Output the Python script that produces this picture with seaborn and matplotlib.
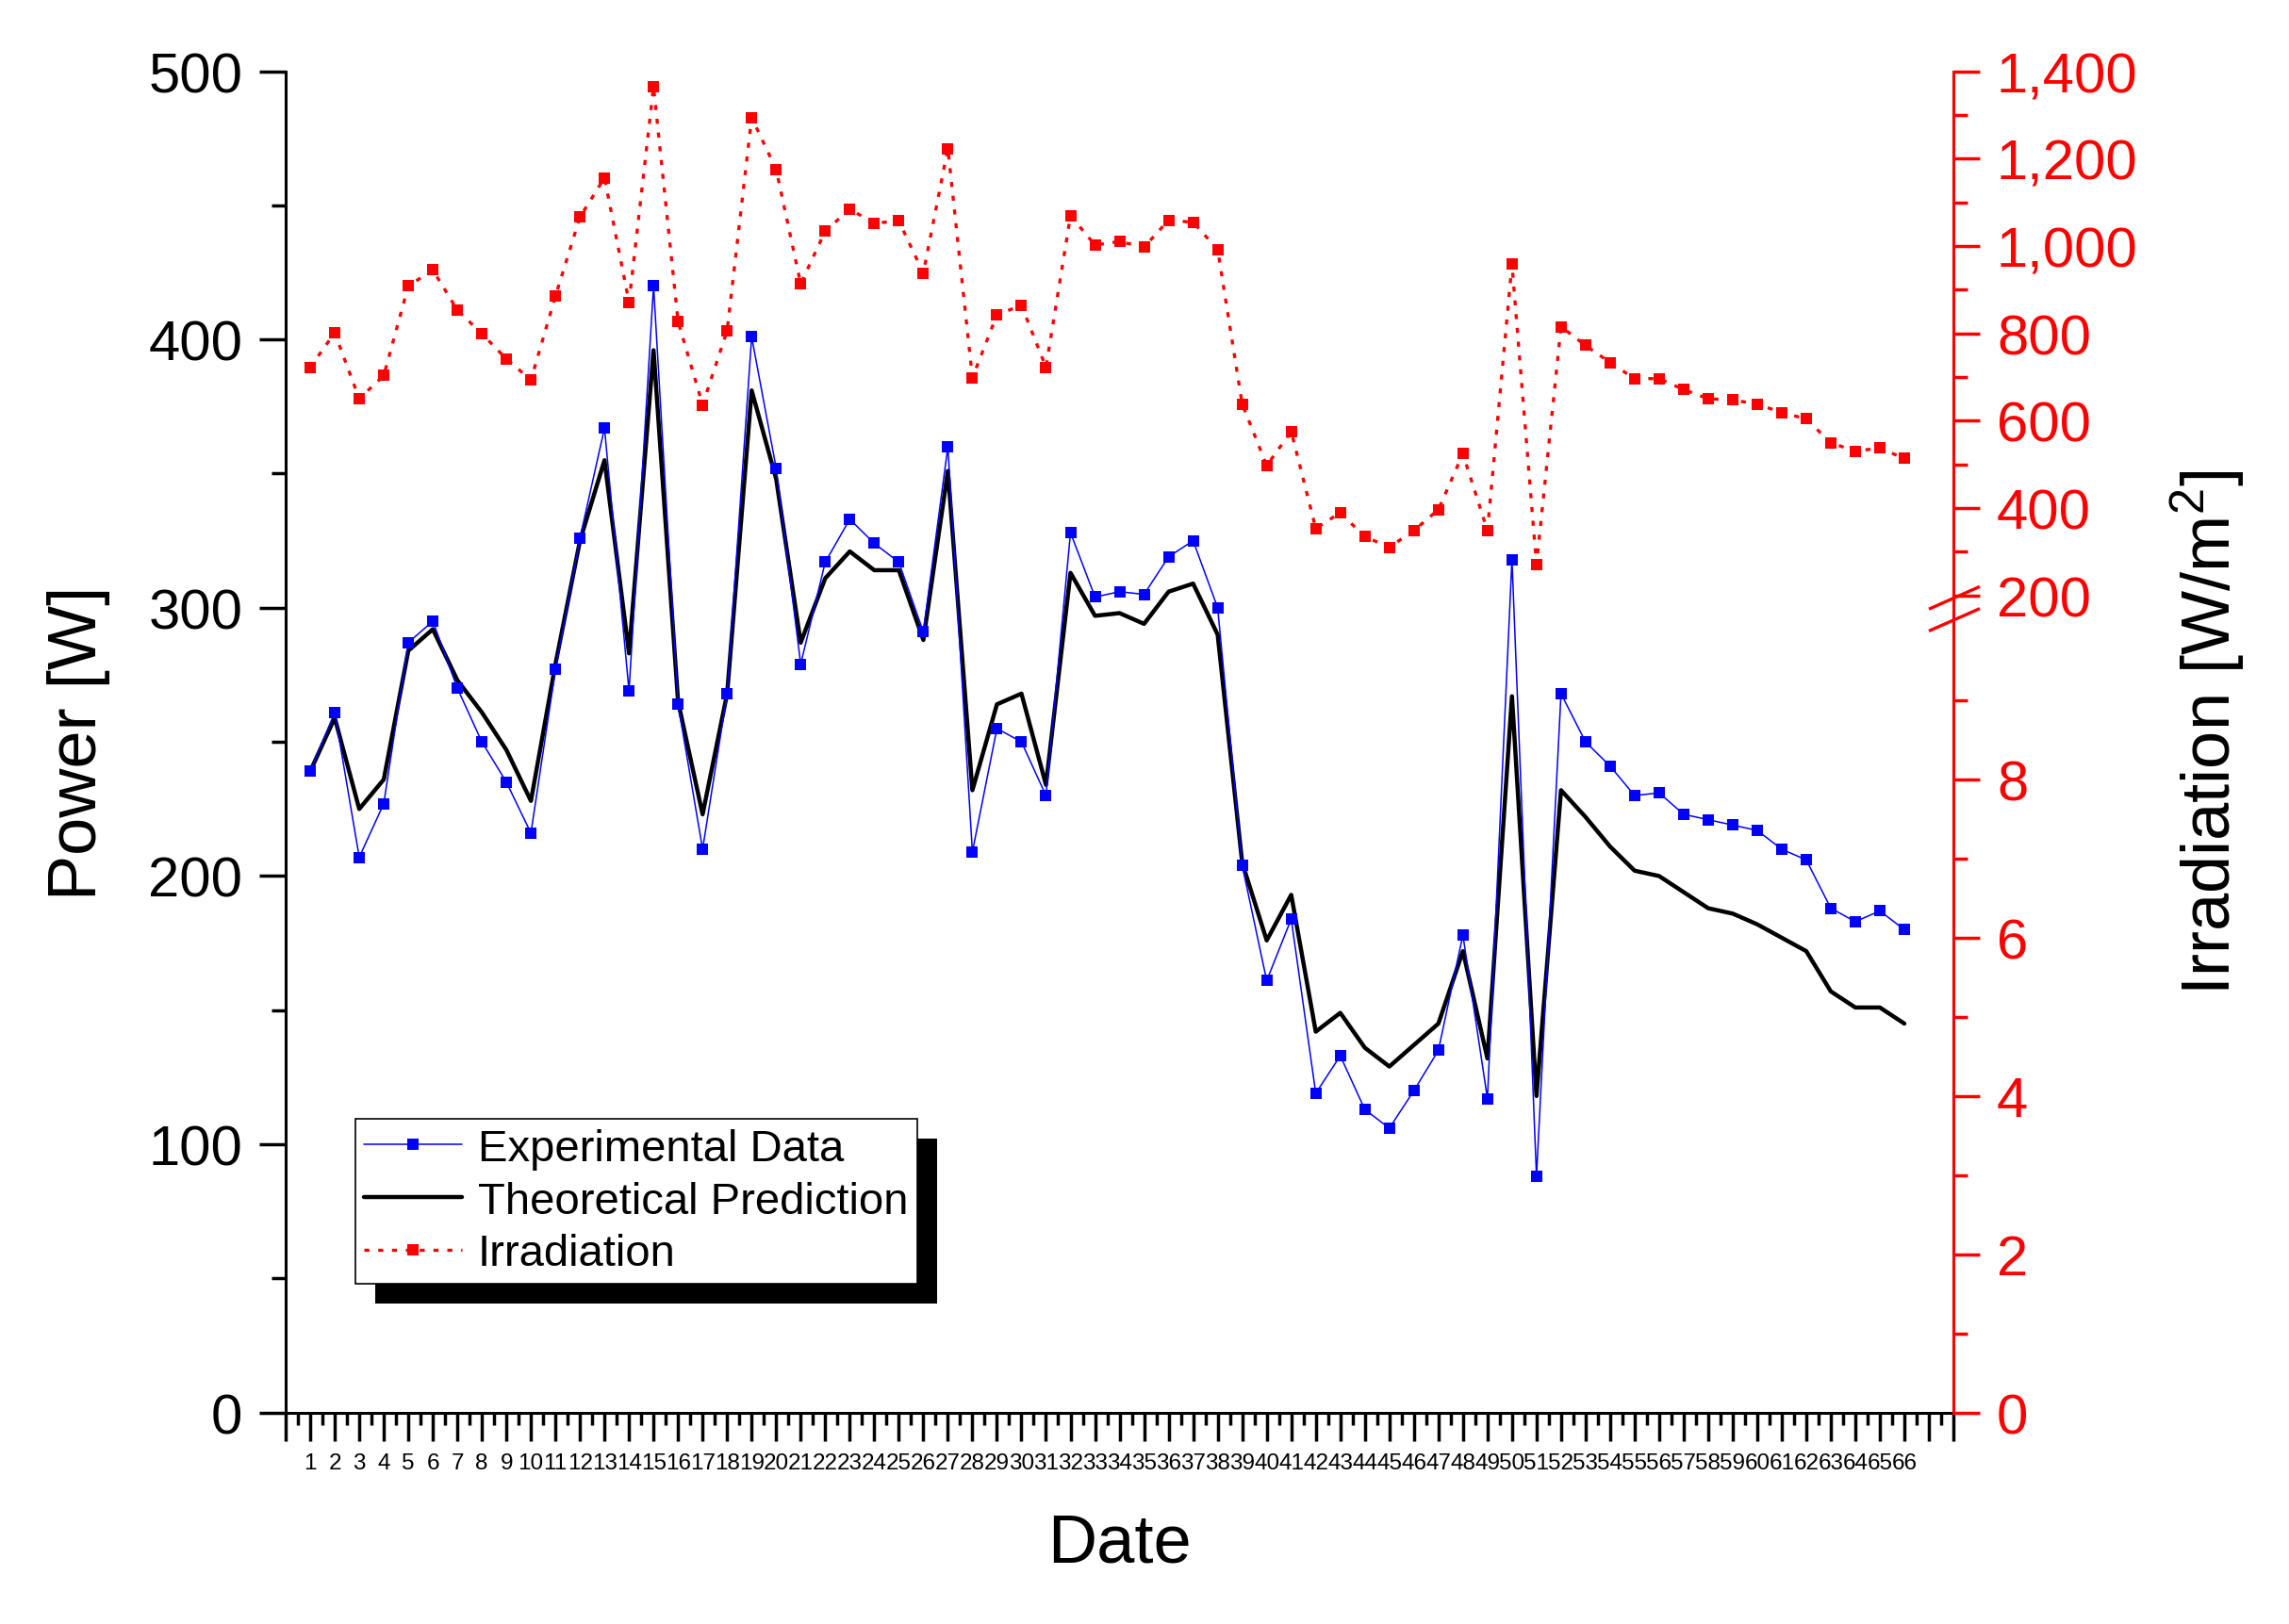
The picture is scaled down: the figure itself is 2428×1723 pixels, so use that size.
import numpy as np
import pandas as pd
import matplotlib
matplotlib.use("Agg")
import matplotlib.pyplot as plt
import seaborn as sns
from matplotlib.ticker import FixedLocator, FuncFormatter, MultipleLocator
from matplotlib.patches import Rectangle
from matplotlib.transforms import IdentityTransform

# ---------------- data ----------------
dates = [1, 2, 3, 4, 5, 6, 7, 8, 9, 10, 11, 12, 13, 14, 15, 16, 17, 18, 19, 20,
         21, 22, 23, 24, 25, 26, 27, 28, 29, 30, 31, 32, 33, 34, 35, 36, 37, 38, 39, 40,
         41, 42, 43, 44, 45, 46, 47, 48, 49, 50, 51, 52, 53, 54, 55, 56, 57, 58, 59, 60,
         61, 62, 63, 64, 65, 66]

experimental = [239, 261, 207, 227, 287, 295, 270, 250, 235, 216,
                277, 326, 367, 269, 420, 264, 210, 268, 401, 352,
                279, 317, 333, 324, 317, 291, 360, 209, 255, 250,
                230, 328, 304, 306, 305, 319, 325, 300, 204, 161,
                184, 119, 133, 113, 106, 120, 135, 178, 117, 318,
                88, 268, 250, 241, 230, 231, 223, 221, 219, 217,
                210, 206, 188, 183, 187, 180]

theoretical = [239, 259, 225, 236, 284, 292, 273, 261, 247, 228,
               279, 325, 355, 283, 396, 265, 223, 268, 381, 348,
               287, 311, 321, 314, 314, 288, 351, 232, 264, 268,
               234, 313, 297, 298, 294, 306, 309, 290, 205, 176,
               193, 142, 149, 136, 129, 137, 145, 172, 132, 267,
               118, 232, 222, 211, 202, 200, 194, 188, 186, 182,
               177, 172, 157, 151, 151, 145]

irradiation = [722, 801, 650, 703, 908, 945, 853, 799, 741, 693,
               885, 1066, 1156, 871, 1364, 827, 636, 806, 1294, 1175,
               913, 1034, 1084, 1052, 1057, 938, 1223, 698, 842, 864,
               722, 1069, 1002, 1010, 997, 1059, 1054, 992, 638, 497,
               575, 353, 389, 334, 310, 348, 396, 524, 348, 958,
               270, 815, 772, 733, 696, 696, 671, 650, 647, 638,
               618, 604, 549, 530, 537, 513]

legend_labels = ["Experimental Data", "Theoretical Prediction", "Irradiation"]
left_ticks = [0, 100, 200, 300, 400, 500]
right_major = [0, 2, 4, 6, 8, 200, 400, 600, 800, 1000, 1200, 1400]
right_minor = [1, 3, 5, 7, 9, 300, 500, 700, 900, 1100, 1300]

df = pd.DataFrame({"Date": dates, "Experimental": experimental,
                   "Theoretical": theoretical, "Irradiation": irradiation})

BLUE = "#0000FF"
RED = "#FF0000"

# ---------------- style ----------------
sns.set_style("ticks")
plt.rcParams["font.family"] = ["Liberation Sans", "DejaVu Sans"]
plt.rcParams["mathtext.fontset"] = "custom"
plt.rcParams["mathtext.rm"] = "Liberation Sans"
plt.rcParams["mathtext.it"] = "Liberation Sans:italic"
plt.rcParams["text.color"] = "black"
plt.rcParams["axes.labelcolor"] = "black"
plt.rcParams["xtick.color"] = "black"
plt.rcParams["ytick.color"] = "black"
plt.rcParams["axes.edgecolor"] = "black"

fig = plt.figure(figsize=(24.28, 17.24), dpi=100)
ax = fig.add_axes([0.1248, 0.1301, 0.7286, 0.8255])
ax2 = ax.twinx()

# broken right axis: 0..10 lower segment, 200..1400 upper segment
def fwd(v):
    v = np.asarray(v, dtype=float)
    return np.where(v <= 10, v * 84.0,
                    np.where(v <= 200, 840.0 + (v - 10) * (27.2 / 190.0),
                             867.2 + (v - 200) * 0.4633))

def inv(p):
    p = np.asarray(p, dtype=float)
    return np.where(p <= 840.0, p / 84.0,
                    np.where(p <= 867.2, 10 + (p - 840.0) * (190.0 / 27.2),
                             200 + (p - 867.2) / 0.4633))

ax2.set_yscale("function", functions=(fwd, inv))

# ---------------- lines ----------------
sns.lineplot(data=df, x="Date", y="Theoretical", ax=ax, color="black",
             linewidth=3.2, errorbar=None, legend=False)
sns.lineplot(data=df, x="Date", y="Experimental", ax=ax, color=BLUE,
             linewidth=1.1, marker="s", markersize=8, markeredgewidth=0,
             markeredgecolor=BLUE, markerfacecolor=BLUE, errorbar=None, legend=False)
sns.lineplot(data=df, x="Date", y="Irradiation", ax=ax2, color=RED,
             linewidth=2.4, linestyle=(0, (1.6, 2.8)), marker="s", markersize=8.5,
             markeredgewidth=0, markeredgecolor=RED, markerfacecolor=RED,
             errorbar=None, legend=False)

theo_line = ax.lines[0]
exp_line = ax.lines[1]
irr_line = ax2.lines[0]
theo_line.set_zorder(2)
exp_line.set_zorder(3)

# ---------------- axes ----------------
ax.set_xlim(0, 68)
ax.set_ylim(0, 500)
ax2.set_ylim(0, 1400)

xt = list(range(0, 69))
ax.set_xticks(xt, labels=[str(d) if d in dates else "" for d in xt])
ax.xaxis.set_minor_locator(MultipleLocator(0.5))
ax.yaxis.set_major_locator(FixedLocator(left_ticks))
ax.yaxis.set_minor_locator(MultipleLocator(50))

ax2.yaxis.set_major_locator(FixedLocator(right_major))
ax2.yaxis.set_minor_locator(FixedLocator(right_minor))
ax2.yaxis.set_major_formatter(FuncFormatter(lambda v, p: f"{int(round(v)):,}"))

ax.tick_params(axis="x", which="major", direction="out", length=21.6, width=2.5,
               labelsize=17.5, pad=9, colors="black")
ax.tick_params(axis="x", which="minor", direction="out", length=9.6, width=2.5,
               colors="black")
ax.tick_params(axis="y", which="major", direction="out", length=20, width=2.5,
               labelsize=43, pad=13, colors="black")
ax.tick_params(axis="y", which="minor", direction="out", length=11, width=2.5,
               colors="black")
ax2.tick_params(axis="y", which="major", direction="out", length=20, width=2.5,
                labelsize=43, pad=13, colors=RED)
ax2.tick_params(axis="y", which="minor", direction="out", length=11, width=2.5,
                colors=RED)

for lab in ax.get_xticklabels():
    lab.set_fontfamily(["Liberation Sans Narrow", "Liberation Sans"])

for s in ["top", "right"]:
    ax.spines[s].set_visible(False)
for s in ["left", "bottom"]:
    ax.spines[s].set_linewidth(2.2)
    ax.spines[s].set_color("black")
for s in ["top", "left", "bottom"]:
    ax2.spines[s].set_visible(False)
ax2.spines["right"].set_color(RED)
ax2.spines["right"].set_linewidth(2.2)

# axis break marks on the right axis
for y0, y1 in [(0.599, 0.6158), (0.5827, 0.5994)]:
    ax2.plot([0.9853, 1.0158], [y0, y1], transform=ax2.transAxes, color=RED,
             linewidth=2.4, clip_on=False, solid_capstyle="butt")

ax.set_xlabel("Date", fontsize=52, color="black")
ax.xaxis.set_label_coords(0.5, -0.074)
ax.set_ylabel("Power [W]", fontsize=52, color="black")
ax.yaxis.set_label_coords(-0.105, 0.5)
ax2.set_ylabel(r"Irradiation [W/m$^{\mathregular{2}}$]", fontsize=52, color="black")
ax2.yaxis.set_label_coords(1.129, 0.508)

# ---------------- legend ----------------
leg = ax2.legend([exp_line, theo_line, irr_line], legend_labels,
                 loc="upper left", bbox_to_anchor=(0.0417, 0.2188),
                 fontsize=34, frameon=True, fancybox=False, edgecolor="black",
                 framealpha=1, borderpad=0.2, labelspacing=0.25,
                 handlelength=2.2, handletextpad=0.36, borderaxespad=0)
leg.get_frame().set_linewidth(1.2)
for t in leg.get_texts():
    t.set_color("black")
leg.set_zorder(10)

fig.canvas.draw()
bb = leg.get_window_extent()
shadow = Rectangle((bb.x0 + 21, bb.y0 - 21), bb.width, bb.height,
                   transform=IdentityTransform(), facecolor="black",
                   edgecolor="none", zorder=9)
ax2.add_artist(shadow)
shadow.set_clip_on(False)

fig.savefig("out.png", dpi=100)
